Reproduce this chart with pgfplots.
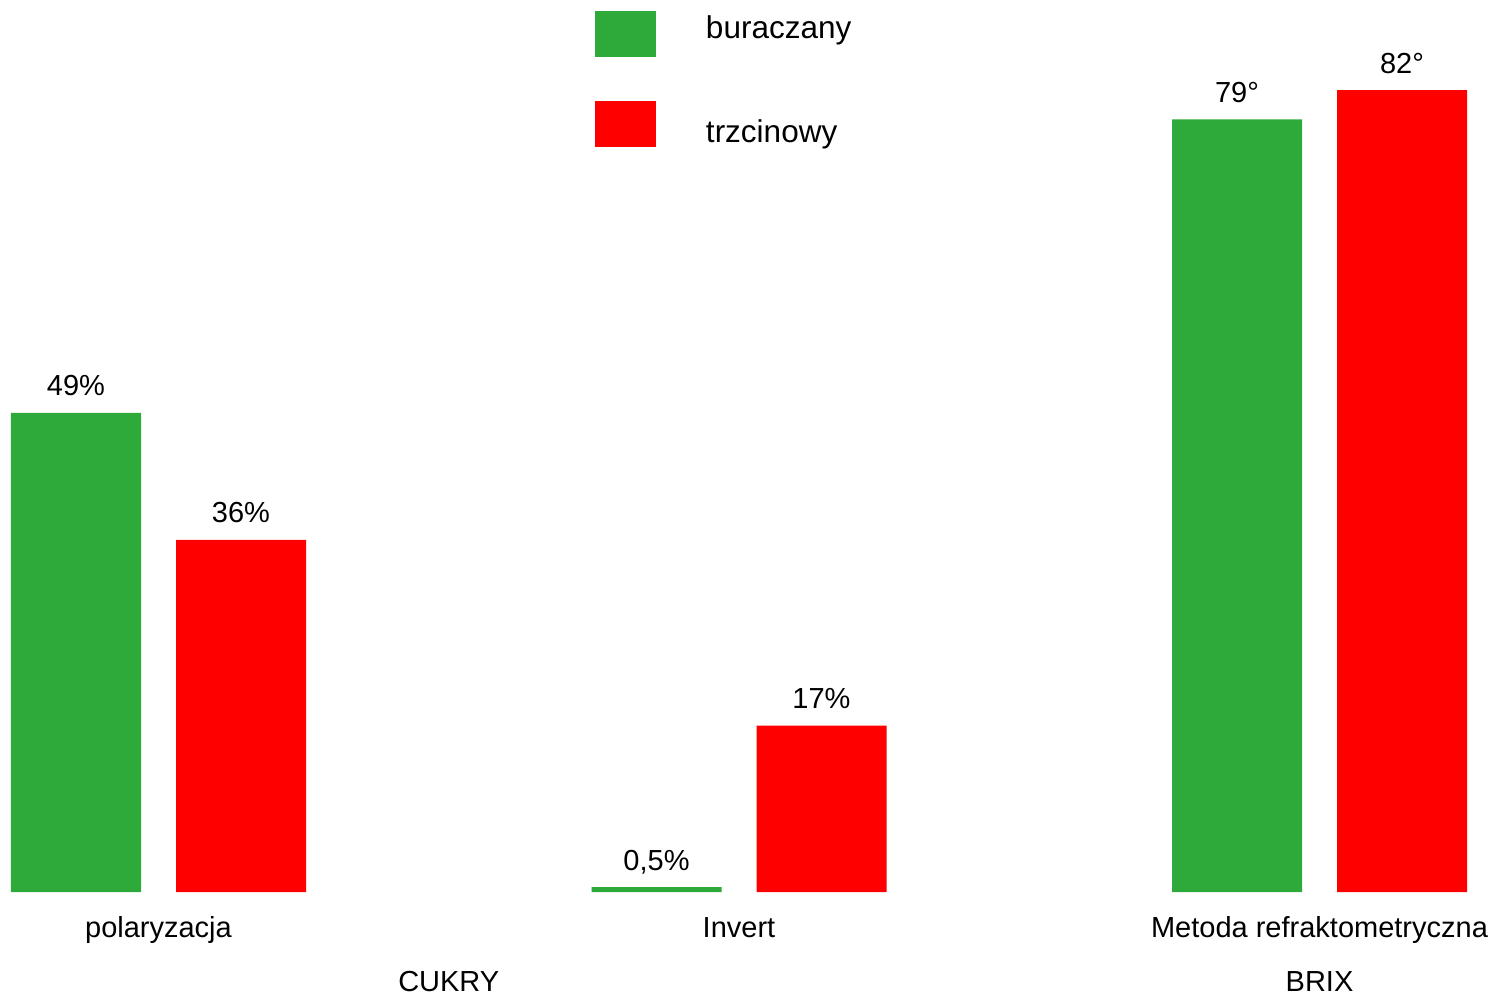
\documentclass[border=0pt]{standalone}
\usepackage{fontspec}
\setmainfont{Liberation Sans}
\usepackage{pgfplots}
\pgfplotsset{compat=1.18}
\definecolor{cgreen}{RGB}{46,170,58}
\definecolor{cred}{RGB}{255,0,0}
\begin{document}
\fontsize{14.5}{17}\selectfont
\begin{tikzpicture}
\begin{axis}[
  scale only axis,
  width=747pt, height=446pt,
  xmin=-0.27304, xmax=2.30060,
  ymin=0, ymax=91.21,
  axis line style={draw=none},
  major tick style={draw=none},
  ytick=\empty,
  xtick={0,1,2},
  xticklabels={polaryzacja,Invert,Metoda refraktometryczna},
  xticklabel style={anchor=base, yshift=-18.5pt, inner sep=0pt},
  extra x ticks={0.5,2},
  extra x tick labels={CUKRY,BRIX},
  extra x tick style={xticklabel style={yshift=-27pt}},
  ybar=17.5pt, bar width=65pt,
  clip=false,
  point meta=explicit symbolic,
  nodes near coords,
  nodes near coords style={anchor=base, yshift=8.5pt, inner sep=0pt, text=black},
  legend image code/.code={\fill[#1] (0pt,-11.5pt) rectangle (30.5pt,11.5pt);},
  legend style={at={(rel axis cs:0.39826,0.98767)}, anchor=north west, draw=none, fill=none,
    inner sep=0pt, outer sep=0pt, row sep=22pt, nodes={inner sep=0pt},
    font=\fontsize{15.75}{19}\selectfont,
    /tikz/every odd column/.append style={column sep=25pt}},
  legend cell align=left,
]
\addplot[fill=cgreen, draw=none] coordinates {(0,49) [{49\%}] (1,0.5) [{0,5\%}] (2,79) [{79°}]};
\addlegendentry[yshift=2.5pt]{buraczany}
\addplot[fill=cred, draw=none] coordinates {(0,36) [{36\%}] (1,17) [{17\%}] (2,82) [{82°}]};
\addlegendentry[yshift=-4.5pt]{trzcinowy}
\end{axis}
\pgfresetboundingbox
\path (current axis.south west) ++(0pt,-52pt) rectangle (current axis.north east);
\end{tikzpicture}
\end{document}
